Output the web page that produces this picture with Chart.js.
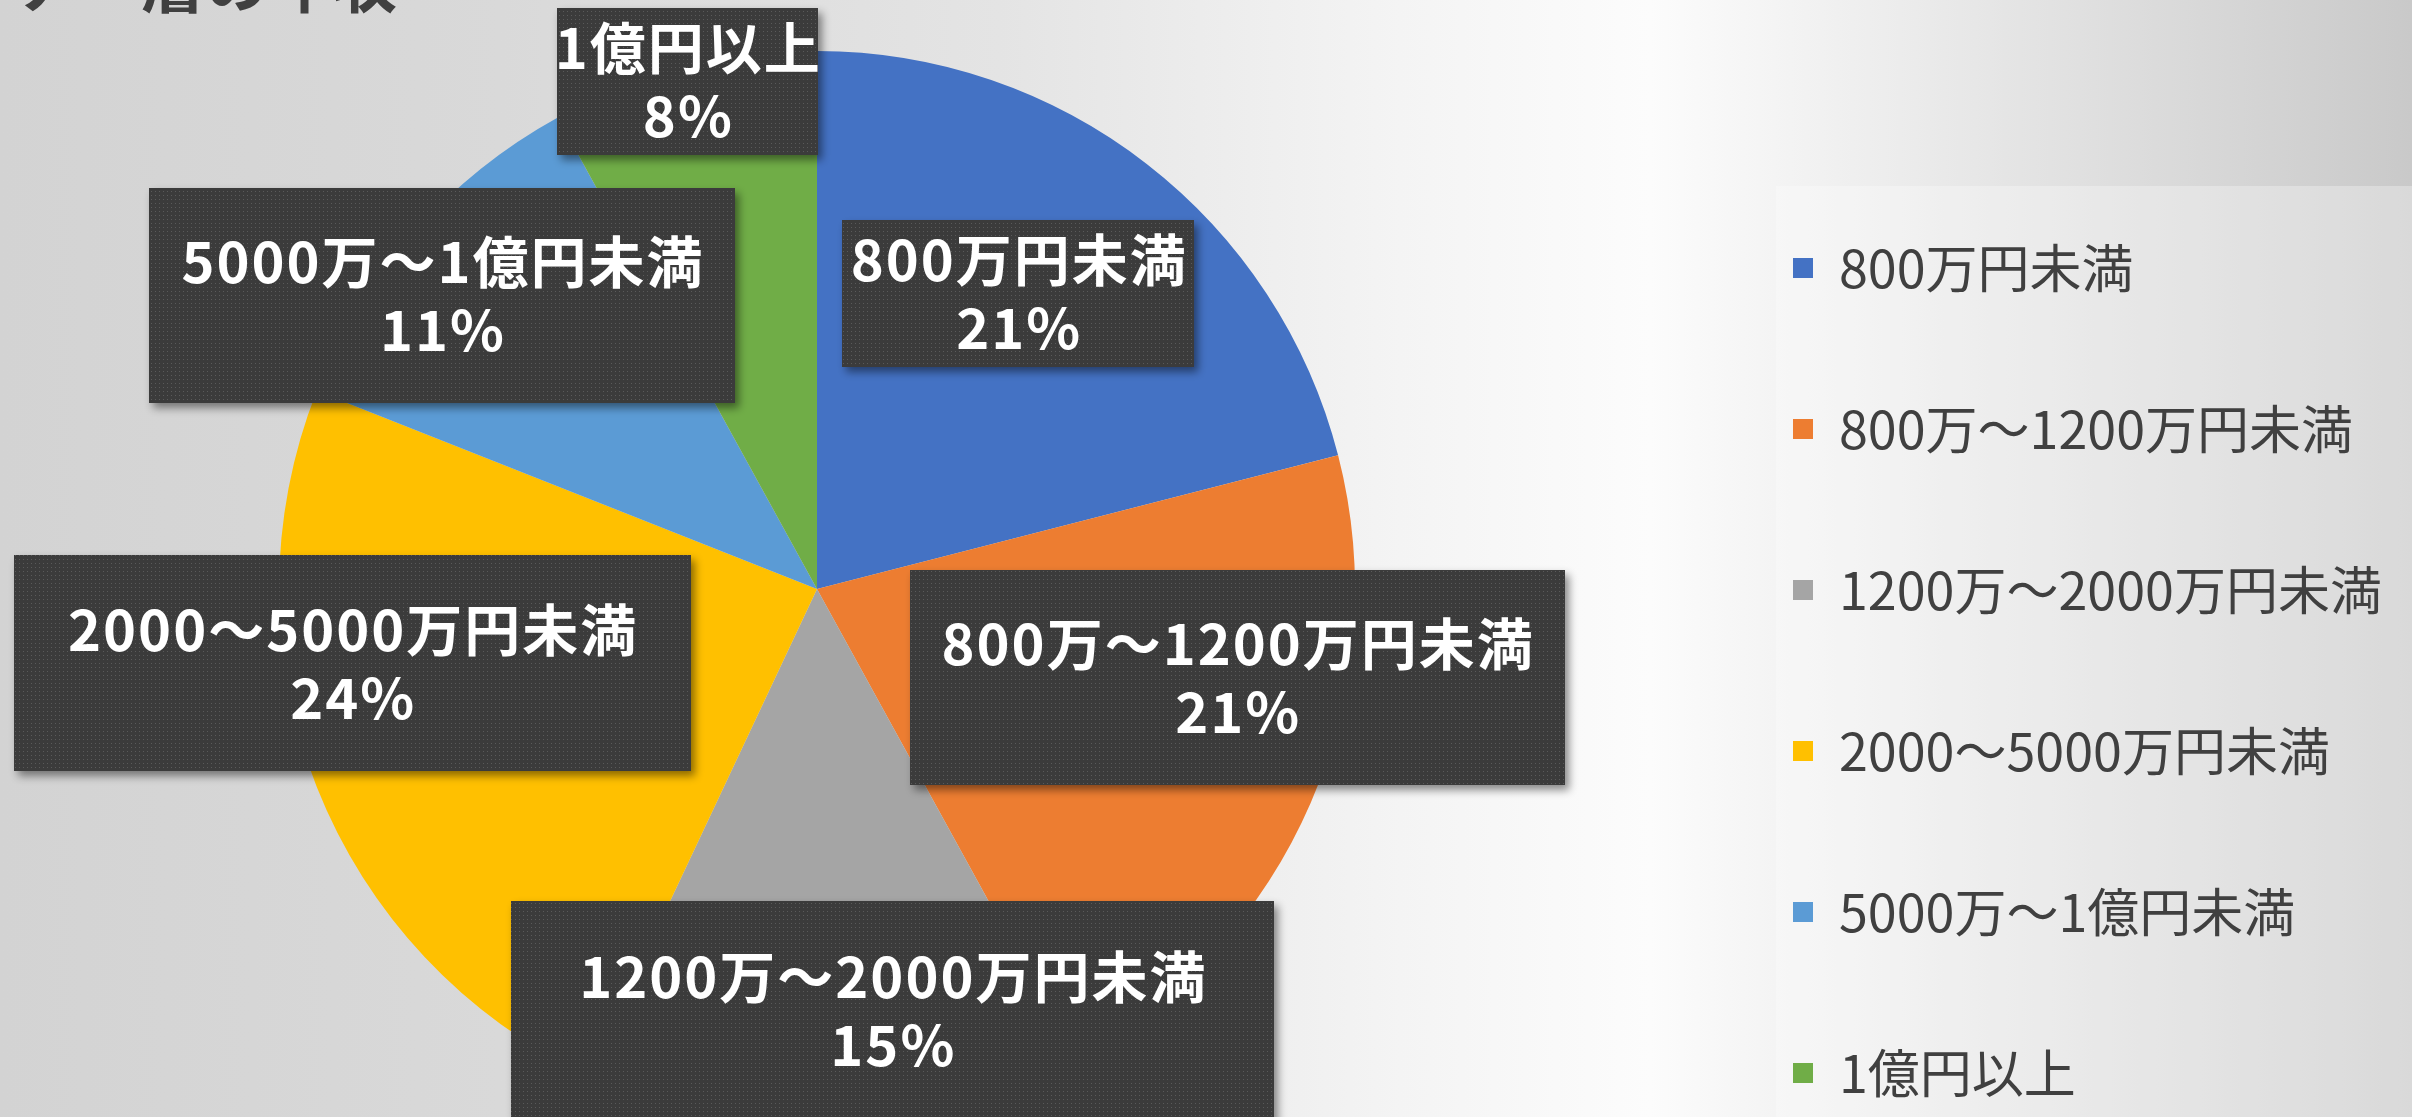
<!DOCTYPE html>
<html>
<head>
<meta charset="utf-8">
<script src="https://cdn.jsdelivr.net/npm/chart.js@4.4.1/dist/chart.umd.min.js"></script>
<style>
html,body{margin:0;padding:0;}
body{width:2412px;height:1117px;overflow:hidden;position:relative;}
#bg{position:absolute;left:0;top:0;width:2412px;height:1117px;
background:linear-gradient(to right,#d3d3d3 0px,#d9d9d9 500px,#e4e4e4 1000px,#f4f4f4 1400px,#fcfcfc 1650px,#ececec 1900px,#d8d8d8 2200px,#c9c9c9 2412px);}
#panel{position:absolute;left:1776px;top:186px;width:636px;height:931px;background:rgba(255,255,255,0.3);}
#c{position:absolute;left:-50px;top:-30px;}
</style>
</head>
<body>
<div id="bg"></div>
<div id="panel"></div>
<canvas id="c" width="2494" height="1238"></canvas>
<script>
// ---- data ----
const titleText = 'オーナー層の年収';
const categories = ['800万円未満','800万～1200万円未満','1200万～2000万円未満','2000～5000万円未満','5000万～1億円未満','1億円以上'];
const shares = [21, 21, 15, 24, 11, 8];
const sliceColors = ['#4472C4','#ED7D31','#A5A5A5','#FFC000','#5B9BD5','#70AD47'];

// ---- label box placement (relative to pie centre, in units of radius) and box sizes ----
const labelPlacement = [
  {dx: 0.374, dy:-0.549, w:352, h:147},
  {dx: 0.781, dy: 0.164, w:655, h:215},
  {dx: 0.140, dy: 0.784, w:763, h:220},
  {dx:-0.864, dy: 0.138, w:677, h:216},
  {dx:-0.697, dy:-0.546, w:586, h:215},
  {dx:-0.241, dy:-0.943, w:261, h:147}
];

const FONT = '"Noto Sans CJK JP", "Noto Sans", sans-serif';
const CANVAS_W = 2494;
const LEGEND_LEFT = 1734; // legend box left edge in canvas pixels

const tile = document.createElement('canvas');
tile.width = 4; tile.height = 4;
(function(){
  const t = tile.getContext('2d');
  t.fillStyle = '#3b3b3b'; t.fillRect(0,0,4,4);
  t.fillStyle = '#5a5a5a'; t.fillRect(1,1,1,1);
})();

const titlePlugin = {
  id: 'cutTitle',
  beforeDraw(chart){
    const ctx = chart.ctx;
    ctx.save();
    ctx.font = 'bold 64px ' + FONT;
    ctx.fillStyle = '#404040';
    ctx.textAlign = 'left';
    ctx.textBaseline = 'alphabetic';
    ctx.fillText(titleText, -65, 37);
    ctx.restore();
  }
};

const labelPlugin = {
  id: 'labelBoxes',
  afterDatasetsDraw(chart){
    const ctx = chart.ctx;
    const meta = chart.getDatasetMeta(0);
    const total = shares.reduce((a,b)=>a+b,0);
    const pat = ctx.createPattern(tile, 'repeat');
    meta.data.forEach((arc, i) => {
      const {x, y, outerRadius} = arc.getProps(['x','y','outerRadius'], true);
      const p = labelPlacement[i];
      const cx = x + p.dx * outerRadius;
      const cy = y + p.dy * outerRadius;
      ctx.save();
      ctx.shadowColor = 'rgba(0,0,0,0.45)';
      ctx.shadowBlur = 8;
      ctx.shadowOffsetX = 4;
      ctx.shadowOffsetY = 5;
      ctx.fillStyle = pat;
      ctx.fillRect(Math.round(cx - p.w/2), Math.round(cy - p.h/2), p.w, p.h);
      ctx.restore();
      ctx.save();
      ctx.fillStyle = '#ffffff';
      ctx.font = 'bold 56px ' + FONT;
      ctx.letterSpacing = '2px';
      ctx.textAlign = 'center';
      ctx.textBaseline = 'middle';
      ctx.fillText(categories[i], cx + 1, cy - 34);
      ctx.fillText(Math.round(shares[i] / total * 100) + '%', cx + 1, cy + 34);
      ctx.restore();
    });
  }
};

const chart = new Chart(document.getElementById('c'), {
  type: 'pie',
  data: {
    labels: categories,
    datasets: [{
      data: shares,
      backgroundColor: sliceColors,
      borderWidth: 0,
      radius: 538
    }]
  },
  options: {
    responsive: false,
    devicePixelRatio: 1,
    animation: false,
    layout: {padding: {left: 0, top: 0, bottom: 0, right: 0}},
    plugins: {
      tooltip: {enabled: false},
      legend: {
        position: 'right',
        align: 'end',
        labels: {
          boxWidth: 20,
          boxHeight: 20,
          padding: 109,
          color: '#404040',
          font: {family: FONT, size: 52, weight: 'normal'}
        }
      }
    }
  },
  plugins: [titlePlugin, labelPlugin]
});
// place the legend so that its left edge sits at LEGEND_LEFT
chart.options.layout.padding.right = Math.max(0, CANVAS_W - LEGEND_LEFT - chart.legend.width);
chart.update();
</script>
</body>
</html>
